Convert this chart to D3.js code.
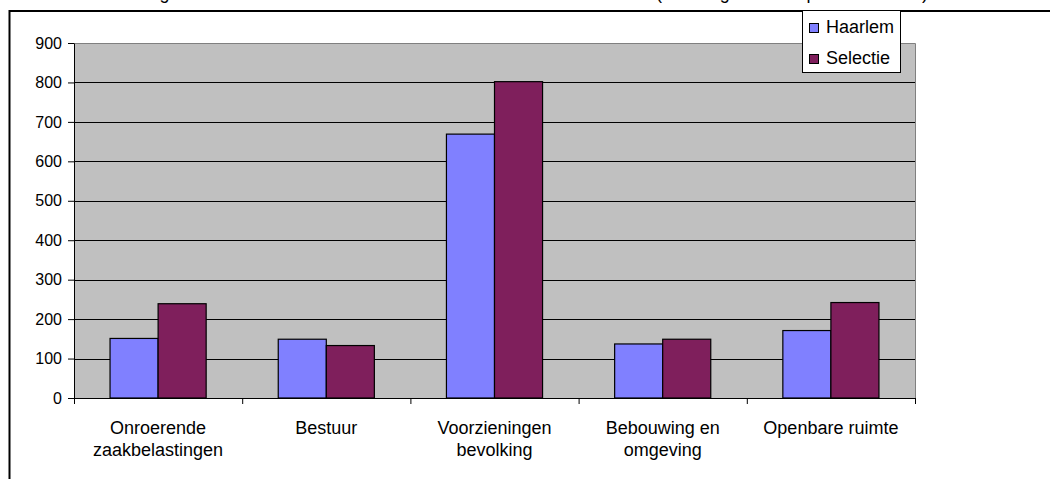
<!DOCTYPE html>
<html>
<head>
<meta charset="utf-8">
<script src="https://cdn.jsdelivr.net/npm/d3@7"></script>
<style>
  html, body { margin: 0; padding: 0; background: #ffffff; overflow: hidden; }
  svg { display: block; font-family: Arial, "Liberation Sans", sans-serif; }
</style>
</head>
<body>
<div id="graph_container" style="width:1050px;height:479px;"></div>
<script>
// values
var categories   = ["Onroerende zaakbelastingen", "Bestuur", "Voorzieningen bevolking", "Bebouwing en omgeving", "Openbare ruimte"];
var label_lines  = [["Onroerende", "zaakbelastingen"], ["Bestuur"], ["Voorzieningen", "bevolking"], ["Bebouwing en", "omgeving"], ["Openbare ruimte"]];
var series_names = ["Haarlem", "Selectie"];
var haarlem      = [151, 149, 669, 137, 171];
var selectie     = [239, 133, 802, 149, 242];
var y_ticks      = [0, 100, 200, 300, 400, 500, 600, 700, 800, 900];
var title_parts  = ["Uitgaven Haarlem en selectie naar beleidsterreinen", "(bedragen in \u20ac per inwoner)"];

var colors = { "Haarlem": "#8080ff", "Selectie": "#7f1f5c" };

var chartDiv = document.getElementById("graph_container");
var width    = 1050;
var height   = 479;
var svg      = d3.select(chartDiv).append("svg").attr("width", width).attr("height", height);

var plot = { left: 74, right: 915, top: 43, bottom: 398 };

var x0 = d3.scaleBand().domain(categories).range([plot.left, plot.right]).paddingInner(0).paddingOuter(0);
var x1 = d3.scaleBand().domain(series_names).range([0, x0.bandwidth()]).paddingInner(0).paddingOuter(0.75);
var y  = d3.scaleLinear().domain([0, 900]).range([plot.bottom, plot.top]);
var xEdges = d3.scaleLinear().domain([0, categories.length]).range([plot.left, plot.right]);

var rows = categories.map(function(c, i) {
    return { cat: c, values: [ { name: "Haarlem", v: haarlem[i] }, { name: "Selectie", v: selectie[i] } ] };
});

// title, mostly above the window like in the picture (only descenders show)
svg.append("text").attr("x", 131).attr("y", -1).attr("font-size", 18)
    .attr("textLength", 515).attr("lengthAdjust", "spacing").text(title_parts[0]);
svg.append("text").attr("x", 656).attr("y", -1).attr("font-size", 18)
    .attr("textLength", 272).attr("lengthAdjust", "spacing").text(title_parts[1]);

// outer frame (only left and top visible)
svg.append("path")
    .attr("d", "M9.5," + height + "V11H" + width)
    .attr("fill", "none").attr("stroke", "#000").attr("stroke-width", 2);

// plot area
svg.append("rect")
    .attr("x", plot.left).attr("y", plot.top)
    .attr("width", plot.right - plot.left).attr("height", plot.bottom - plot.top)
    .attr("fill", "#c0c0c0");

// gridlines
svg.append("g").selectAll("line").data(y_ticks.filter(function(d) { return d > 0 && d < 900; })).enter().append("line")
    .attr("x1", plot.left).attr("x2", plot.right)
    .attr("y1", function(d) { return Math.round(y(d)) + 0.5; })
    .attr("y2", function(d) { return Math.round(y(d)) + 0.5; })
    .attr("stroke", "#000").attr("stroke-width", 1);

// plot border top/right (grey)
svg.append("path")
    .attr("d", "M" + plot.left + "," + (plot.top + 0.5) + "H" + (plot.right + 0.5) + "V" + plot.bottom)
    .attr("fill", "none").attr("stroke", "#808080").attr("stroke-width", 1);

// bars
var groups = svg.append("g").selectAll("g").data(rows).enter().append("g")
    .attr("transform", function(d) { return "translate(" + x0(d.cat) + ",0)"; });

groups.selectAll("rect").data(function(d) { return d.values; }).enter().append("rect")
    .attr("x", function(d) { return x1(d.name); })
    .attr("y", function(d) { return y(d.v); })
    .attr("width", x1.bandwidth())
    .attr("height", function(d) { return y(0) - y(d.v); })
    .attr("fill", function(d) { return colors[d.name]; })
    .attr("stroke", "#000").attr("stroke-width", 1.2);

// y axis
var yAxis = svg.append("g").attr("transform", "translate(" + plot.left + ",0)")
    .call(d3.axisLeft(y).tickValues(y_ticks).tickSize(6).tickPadding(6).tickSizeOuter(0));
yAxis.select(".domain").attr("stroke", "#000");
yAxis.selectAll(".tick line").attr("stroke", "#000");
yAxis.selectAll(".tick text").attr("font-size", 16).attr("fill", "#000")
    .attr("font-family", "Arial, 'Liberation Sans', sans-serif");

// x axis: ticks at category edges, labels drawn by hand in two lines
var xAxis = svg.append("g").attr("transform", "translate(0," + plot.bottom + ")")
    .call(d3.axisBottom(xEdges).tickValues(d3.range(categories.length + 1)).tickSize(6).tickSizeOuter(0).tickFormat(""));
xAxis.select(".domain").attr("stroke", "#000");
xAxis.selectAll(".tick line").attr("stroke", "#000");

var labels = svg.append("g").selectAll("text").data(categories).enter().append("text")
    .attr("x", function(d) { return x0(d) + x0.bandwidth() / 2; })
    .attr("y", 434)
    .attr("text-anchor", "middle")
    .attr("font-size", 18)
    .attr("fill", "#000");

labels.selectAll("tspan").data(function(d, i) { return label_lines[i]; }).enter().append("tspan")
    .attr("x", function() { return d3.select(this.parentNode).attr("x"); })
    .attr("dy", function(d, i) { return i === 0 ? 0 : 22; })
    .text(function(d) { return d; });

// legend
var legend = svg.append("g");
legend.append("rect")
    .attr("x", 802.5).attr("y", 10.5).attr("width", 98).attr("height", 62)
    .attr("fill", "#fff").attr("stroke", "#000").attr("stroke-width", 1);

var items = legend.selectAll("g").data(series_names).enter().append("g")
    .attr("transform", function(d, i) { return "translate(809," + (23 + i * 31) + ")"; });
items.append("rect").attr("x", 0.5).attr("y", 0.5).attr("width", 9).attr("height", 9)
    .attr("fill", function(d) { return colors[d]; }).attr("stroke", "#000").attr("stroke-width", 1);
items.append("text").attr("x", 17).attr("y", 10).attr("font-size", 18).attr("fill", "#000")
    .text(function(d) { return d; });
</script>
</body>
</html>
